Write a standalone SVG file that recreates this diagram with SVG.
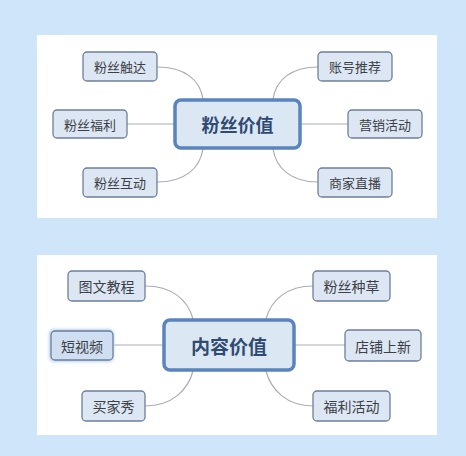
<svg xmlns="http://www.w3.org/2000/svg" width="466" height="456" viewBox="0 0 466 456">
<defs>
<style>
.panel{fill:#ffffff}
.node rect{fill:#dde7f4;stroke:#6e7f9a;stroke-width:1.3}
.node text{font-family:"Noto Sans CJK SC","Noto Sans",sans-serif;font-size:13px;fill:#3c3f46;text-anchor:middle;dominant-baseline:central}
.center rect{fill:#dce7f4;stroke:#5a84bd;stroke-width:3.5}
.center text{font-family:"Noto Sans CJK SC","Noto Sans",sans-serif;font-size:18px;font-weight:bold;fill:#2f4b72;text-anchor:middle;dominant-baseline:central}
.conn path{fill:none;stroke:#a8adb6;stroke-width:1.2}
</style>
<filter id="glow" x="-20%" y="-30%" width="140%" height="160%">
<feGaussianBlur stdDeviation="1.5"/>
</filter>
</defs>
<rect width="466" height="456" fill="#cfe5f9"/>
<rect class="panel" x="37" y="35" width="400" height="183"/>
<rect class="panel" x="37" y="255" width="400" height="180"/>

<g id="connectors" class="conn">
<path d="M157,67 C185,67 200,80 203,99"/>
<path d="M273,99 C276,80 291,67 318,67"/>
<path d="M127,124 L174,124"/>
<path d="M301,124 L348,124"/>
<path d="M203,149 C200,168 185,182 157,182"/>
<path d="M273,149 C276,168 291,182 318,182"/>
<path d="M145,286 C172,286 188,300 193,319"/>
<path d="M266,319 C271,300 287,286 313,286"/>
<path d="M114,345 L163,345"/>
<path d="M295,345 L345,345"/>
<path d="M193,371 C188,390 172,406 145,406"/>
<path d="M266,371 C271,390 287,406 313,406"/>
</g>

<g id="fans-center" class="center">
<rect x="175" y="100" width="125" height="48" rx="6"/>
<text x="237.5" y="124">粉丝价值</text>
</g>
<g id="n-chuda" class="node"><rect x="83" y="52" width="74" height="29" rx="4"/><text x="120" y="66.5">粉丝触达</text></g>
<g id="n-fuli" class="node"><rect x="53" y="110" width="74" height="28" rx="4"/><text x="90" y="124">粉丝福利</text></g>
<g id="n-hudong" class="node"><rect x="83" y="168" width="74" height="29" rx="4"/><text x="120" y="182.5">粉丝互动</text></g>
<g id="n-tuijian" class="node"><rect x="318" y="52" width="74" height="29" rx="4"/><text x="355" y="66.5">账号推荐</text></g>
<g id="n-yingxiao" class="node"><rect x="348" y="110" width="74" height="28" rx="4"/><text x="385" y="124">营销活动</text></g>
<g id="n-zhibo" class="node"><rect x="318" y="168" width="74" height="29" rx="4"/><text x="355" y="182.5">商家直播</text></g>

<g id="content-center" class="center">
<rect x="164" y="320" width="130" height="50" rx="6"/>
<text x="229" y="345" style="font-size:19px">内容价值</text>
</g>
<g id="n-tuwen" class="node"><rect x="68" y="271" width="77" height="30" rx="4"/><text x="106.5" y="286" style="font-size:14px">图文教程</text></g>
<g id="n-duanshipin" class="node">
<rect x="49" y="329" width="65" height="33" rx="5" fill="#b9d3ee" stroke="none" filter="url(#glow)" style="fill:#bcd5ef;stroke:none"/>
<rect x="51" y="331" width="62" height="29" rx="4" style="fill:#cfdef0"/>
<text x="82" y="345.5" style="font-size:14px">短视频</text></g>
<g id="n-maijiaxiu" class="node"><rect x="82" y="391" width="63" height="30" rx="4"/><text x="113.5" y="406" style="font-size:14px">买家秀</text></g>
<g id="n-zhongcao" class="node"><rect x="313" y="271" width="77" height="30" rx="4"/><text x="351.5" y="286" style="font-size:14px">粉丝种草</text></g>
<g id="n-shangxin" class="node"><rect x="345" y="330" width="76" height="31" rx="4"/><text x="383" y="345.5" style="font-size:14px">店铺上新</text></g>
<g id="n-fulihuodong" class="node"><rect x="313" y="391" width="77" height="30" rx="4"/><text x="351.5" y="406" style="font-size:14px">福利活动</text></g>
</svg>
